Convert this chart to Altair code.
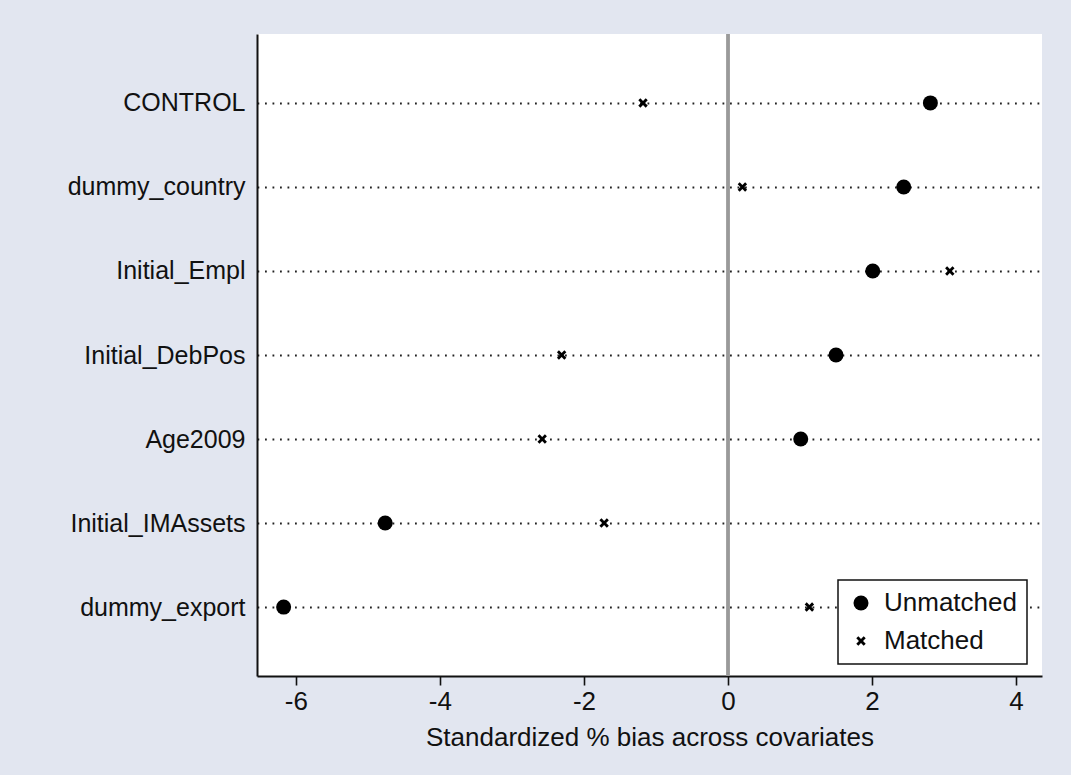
import altair as alt
import pandas as pd

# Covariates, top to bottom
covariates = [
    "CONTROL",
    "dummy_country",
    "Initial_Empl",
    "Initial_DebPos",
    "Age2009",
    "Initial_IMAssets",
    "dummy_export",
]
# Standardized % bias before and after matching
unmatched = [2.81, 2.44, 2.01, 1.50, 1.01, -4.76, -6.17]
matched = [-1.18, 0.20, 3.08, -2.31, -2.58, -1.72, 1.13]

series_names = ["Unmatched", "Matched"]
x_ticks = [-6, -4, -2, 0, 2, 4]

rows = []
for cov, u, m in zip(covariates, unmatched, matched):
    rows.append({"covariate": cov, "series": "Unmatched", "bias": u})
    rows.append({"covariate": cov, "series": "Matched", "bias": m})
df = pd.DataFrame(rows)

FONT = "Liberation Sans"
# solid "x" glyph as a filled outline, in symbol units
CROSS = (
    "M0,-0.27L0.36,-0.63L0.63,-0.36L0.27,0L0.63,0.36L0.36,0.63"
    "L0,0.27L-0.36,0.63L-0.63,0.36L-0.27,0L-0.63,-0.36L-0.36,-0.63Z"
)

x_enc = alt.X(
    "bias:Q",
    scale=alt.Scale(domain=[-6.54, 4.36], nice=False, zero=False),
    axis=alt.Axis(
        values=x_ticks,
        labelExpr="datum.value < 0 ? '-' + abs(datum.value) : '' + datum.value",
        title="Standardized % bias across covariates",
        grid=False,
        domainColor="#111",
        domainWidth=2,
        tickColor="#111",
        tickWidth=1.6,
        tickSize=9,
        labelFontSize=26,
        labelColor="#111",
        labelPadding=3,
        titleFontSize=26,
        titleFontWeight="normal",
        titleColor="#111",
        titlePadding=10,
    ),
)

y_enc = alt.Y(
    "covariate:N",
    sort=covariates,
    scale=alt.Scale(type="point", padding=0.82),
    axis=alt.Axis(
        title=None,
        ticks=False,
        grid=True,
        gridColor="#222",
        gridWidth=1.8,
        gridDash=[1.8, 5.7],
        domainColor="#111",
        domainWidth=2,
        labelFontSize=25,
        labelColor="#111",
        labelPadding=12,
    ),
)

zero_line = alt.Chart(df).mark_rule(color="#9a9a9a", strokeWidth=2.3).encode(
    x=alt.datum(0)
)

points = alt.Chart(df).mark_point(
    filled=True, fill="black", strokeWidth=0, opacity=1, size=225
).encode(
    x=x_enc,
    y=y_enc,
    shape=alt.Shape(
        "series:N",
        scale=alt.Scale(domain=series_names, range=["circle", CROSS]),
        legend=alt.Legend(
            title=None,
            orient="none",
            legendX=581,
            legendY=546,
            padding=10,
            fillColor="white",
            strokeColor="#111",
            labelFontSize=26,
            labelColor="#111",
            labelFont=FONT,
            labelOffset=10,
            labelExpr="datum.label + '    '",
            rowPadding=12,
            symbolSize=225,
            symbolFillColor="black",
            symbolStrokeWidth=0,
            symbolOpacity=1,
            cornerRadius=0,
        ),
    ),
)

chart = (
    alt.layer(zero_line, points)
    .properties(
        width=785,
        height=642,
        autosize=alt.AutoSizeParams(type="none"),
        padding={"left": 257, "top": 34, "right": 29, "bottom": 99},
        background="#e2e6f0",
    )
    .configure_view(fill="white", stroke=None)
    .configure_axis(labelFont=FONT, titleFont=FONT)
    .configure_legend(strokeWidth=1.5)
)

chart.save("out.html", embed_options={"renderer": "svg", "actions": False})
